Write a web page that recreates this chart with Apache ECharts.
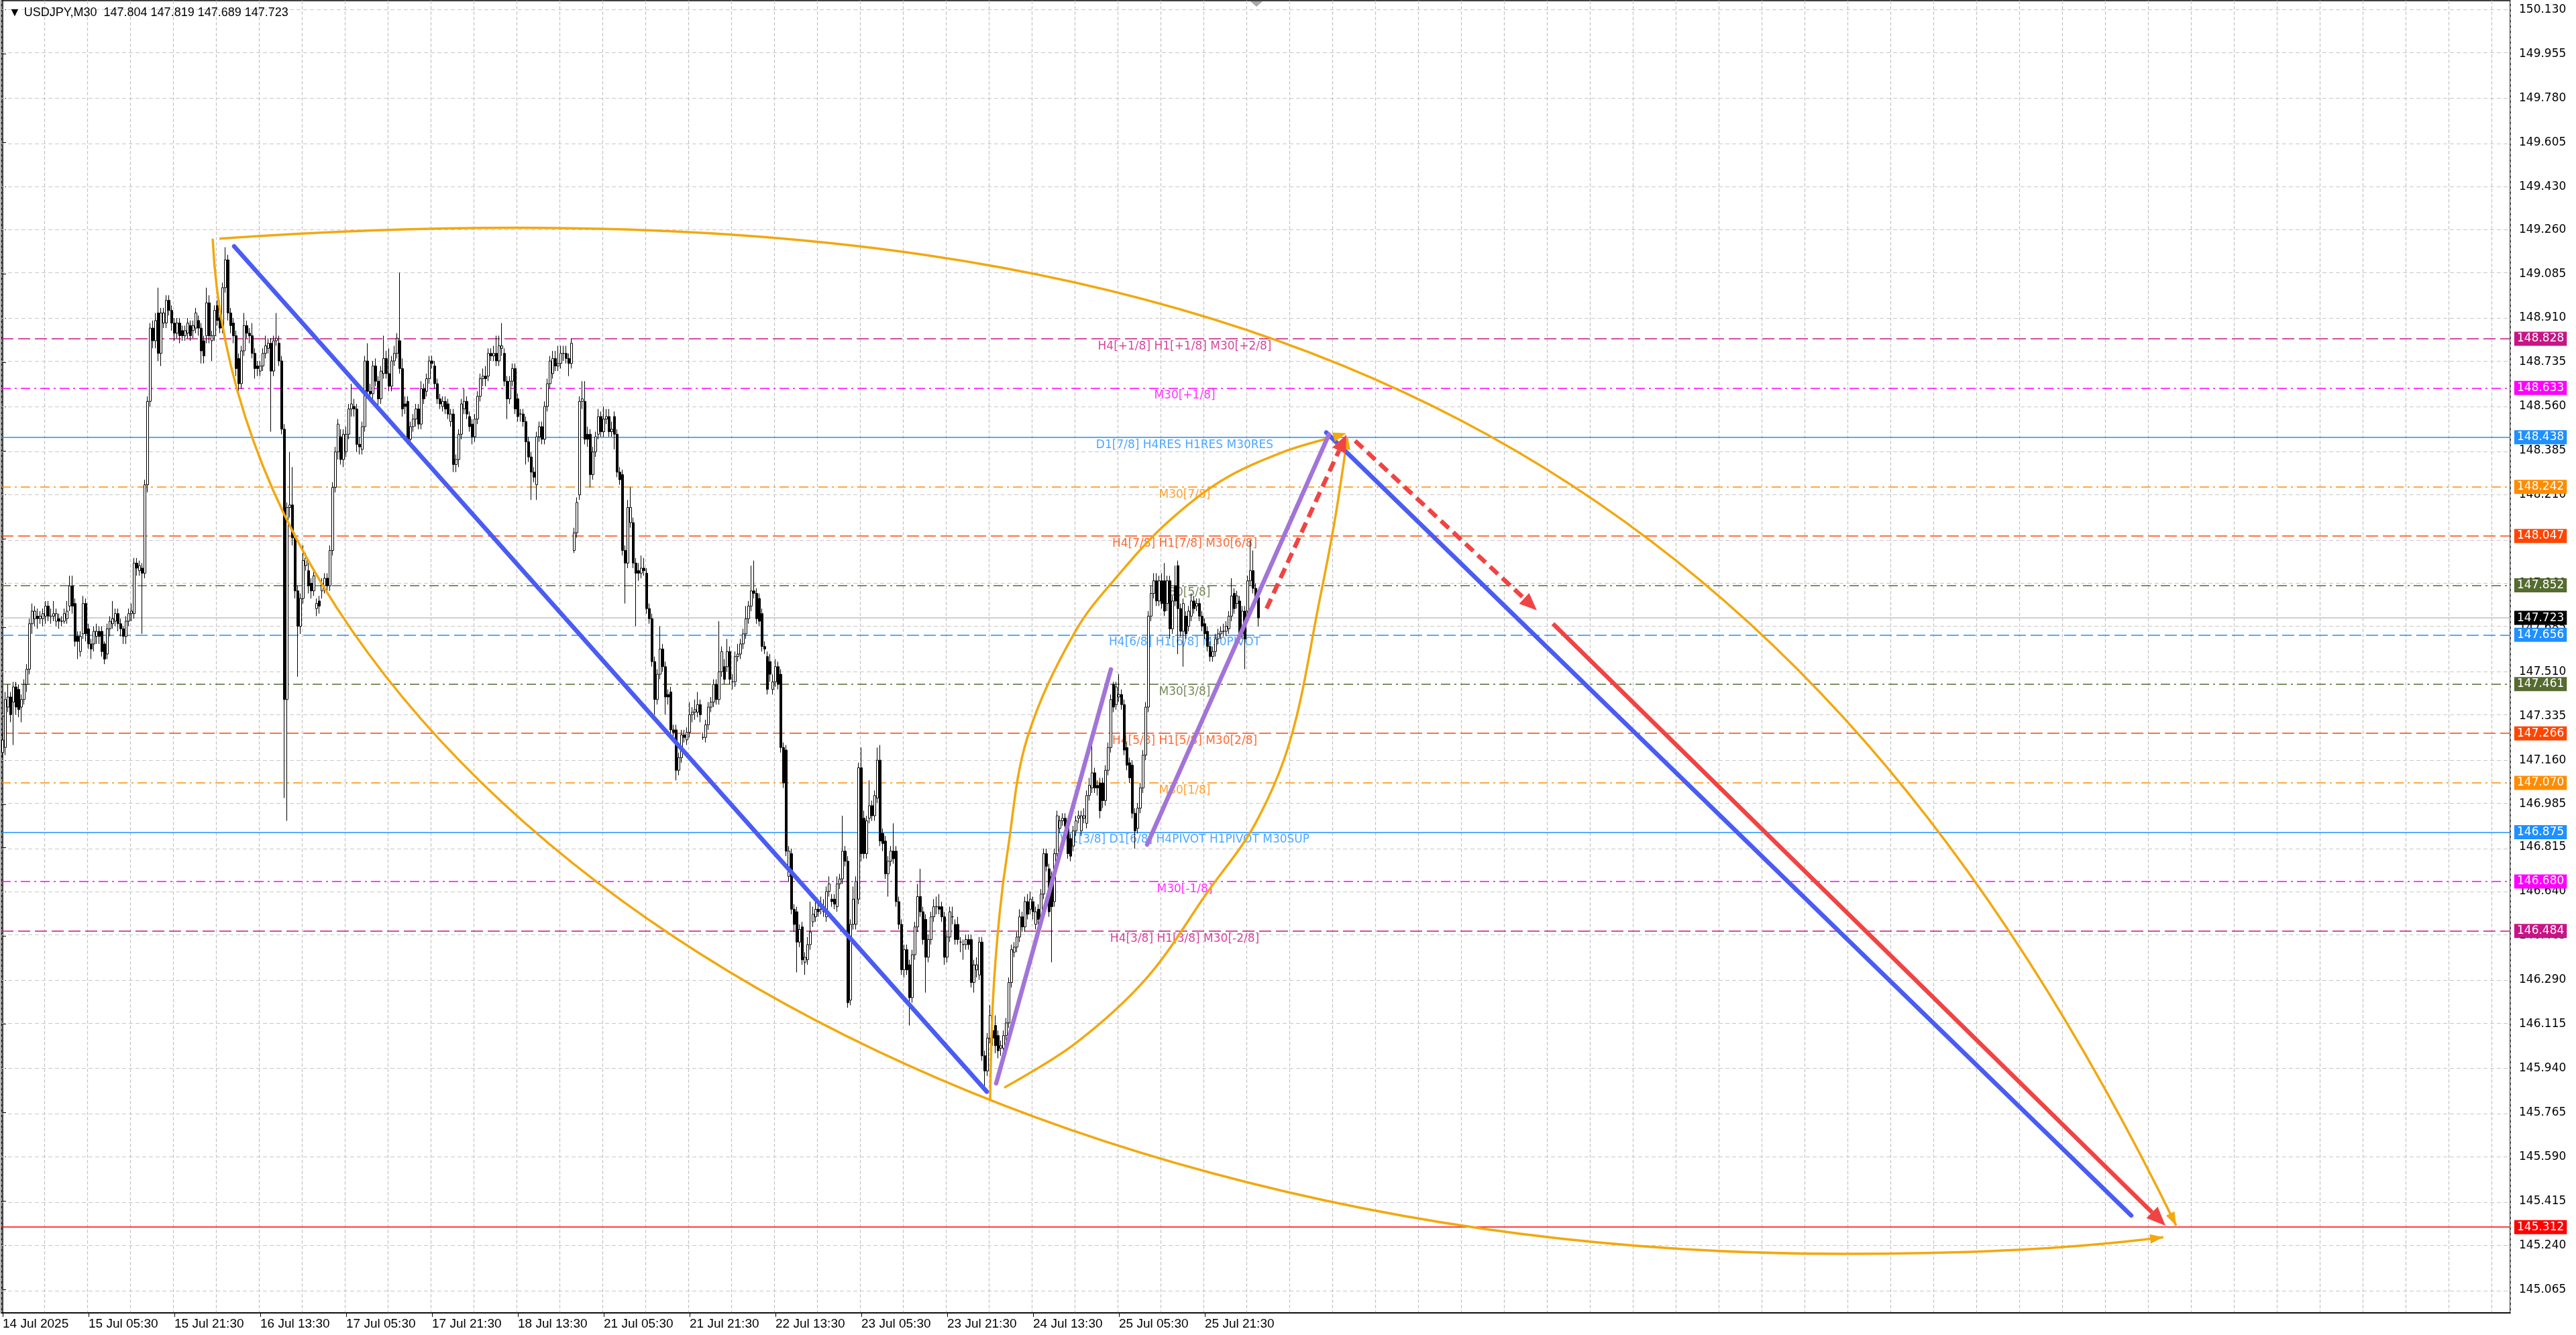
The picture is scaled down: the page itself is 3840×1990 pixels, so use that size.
<!DOCTYPE html>
<html>
<head>
<meta charset="utf-8">
<title>USDJPY M30</title>
<script src="https://cdn.jsdelivr.net/npm/echarts@6.0.0/dist/echarts.min.js"></script>
<style>
html, body { margin: 0; padding: 0; background: #fff; }
#chart { width: 3840px; height: 1990px; }
</style>
</head>
<body>
<div id="chart"></div>
<script>
// USDJPY M30 chart with Murrey math levels and hand drawn projection
var barCount = 935; // bars that fit in the window (candles + empty right side)
var header = '\u25BC USDJPY,M30  147.804 147.819 147.689 147.723';
var xLabels = ['14 Jul 2025', '15 Jul 05:30', '15 Jul 21:30', '16 Jul 13:30', '17 Jul 05:30',
    '17 Jul 21:30', '18 Jul 13:30', '21 Jul 05:30', '21 Jul 21:30', '22 Jul 13:30',
    '23 Jul 05:30', '23 Jul 21:30', '24 Jul 13:30', '25 Jul 05:30', '25 Jul 21:30'];
var yTicks = [150.130, 149.955, 149.780, 149.605, 149.430, 149.260, 149.085, 148.910, 148.735,
    148.560, 148.385, 148.210, 148.035, 147.860, 147.685, 147.510, 147.335, 147.160, 146.985,
    146.815, 146.640, 146.465, 146.290, 146.115, 145.940, 145.765, 145.590, 145.415, 145.240, 145.065];

// [open, close, low, high]
var candles = [
[147.19,147.24,147.17,147.27],[147.21,147.40,147.18,147.43],[147.37,147.41,147.35,147.46],[147.41,147.34,147.31,147.43],
[147.39,147.45,147.22,147.47],[147.45,147.37,147.34,147.47],[147.44,147.36,147.33,147.46],[147.37,147.40,147.31,147.42],
[147.40,147.46,147.38,147.48],[147.46,147.52,147.43,147.54],[147.52,147.70,147.50,147.72],[147.70,147.75,147.66,147.78],
[147.72,147.75,147.69,147.77],[147.73,147.72,147.68,147.76],[147.72,147.73,147.70,147.75],[147.72,147.74,147.69,147.76],
[147.73,147.77,147.70,147.79],[147.77,147.73,147.71,147.79],[147.73,147.73,147.70,147.76],[147.73,147.74,147.71,147.79],
[147.71,147.74,147.69,147.76],[147.72,147.71,147.68,147.74],[147.71,147.71,147.69,147.73],[147.71,147.74,147.70,147.76],
[147.72,147.75,147.70,147.79],[147.77,147.85,147.75,147.89],[147.85,147.77,147.74,147.89],[147.78,147.63,147.61,147.80],
[147.65,147.63,147.56,147.67],[147.59,147.65,147.57,147.67],[147.66,147.78,147.64,147.81],[147.78,147.66,147.63,147.80],
[147.68,147.62,147.60,147.70],[147.62,147.60,147.56,147.64],[147.62,147.67,147.59,147.69],[147.65,147.67,147.62,147.70],
[147.67,147.65,147.62,147.69],[147.67,147.59,147.57,147.69],[147.62,147.56,147.54,147.63],[147.58,147.68,147.56,147.70],
[147.68,147.71,147.65,147.73],[147.70,147.72,147.68,147.79],[147.71,147.74,147.69,147.76],[147.74,147.70,147.67,147.76],
[147.70,147.68,147.65,147.72],[147.68,147.65,147.62,147.69],[147.65,147.71,147.62,147.73],[147.71,147.74,147.69,147.76],
[147.74,147.75,147.71,147.78],[147.74,147.94,147.72,147.96],[147.94,147.92,147.89,147.96],[147.91,147.93,147.89,147.95],
[147.92,147.90,147.66,147.94],[147.90,148.25,147.88,148.27],[148.25,148.58,148.22,148.60],[148.58,148.87,148.56,148.89],
[148.87,148.82,148.79,148.90],[148.82,148.90,148.79,148.93],[148.93,148.77,148.74,149.03],[148.77,148.93,148.72,148.95],
[148.89,148.93,148.87,148.95],[148.89,148.98,148.87,149.00],[148.98,148.94,148.92,149.00],[148.94,148.89,148.86,148.96],
[148.89,148.85,148.82,148.91],[148.85,148.89,148.83,148.91],[148.89,148.84,148.81,148.91],[148.86,148.84,148.82,148.88],
[148.84,148.86,148.82,148.88],[148.85,148.89,148.83,148.91],[148.88,148.84,148.82,148.90],[148.86,148.88,148.83,148.90],
[148.87,148.93,148.85,148.95],[148.90,148.87,148.84,148.92],[148.87,148.78,148.73,148.89],[148.82,148.76,148.73,148.84],
[148.84,148.97,148.81,149.03],[148.97,148.84,148.81,149.00],[148.82,148.84,148.74,148.86],[148.84,148.94,148.82,148.96],
[148.96,148.90,148.88,148.98],[148.91,148.87,148.85,148.93],[148.87,149.03,148.85,149.05],[149.03,149.14,149.01,149.19],
[149.14,148.93,148.90,149.16],[148.93,148.88,148.85,148.95],[148.89,148.84,148.81,148.91],[148.84,148.71,148.68,148.86],
[148.75,148.65,148.62,148.77],[148.65,148.78,148.63,148.80],[148.78,148.88,148.76,148.93],[148.88,148.85,148.83,148.90],
[148.85,148.84,148.81,148.87],[148.84,148.77,148.75,148.89],[148.77,148.71,148.67,148.79],[148.72,148.71,148.68,148.74],
[148.70,148.72,148.68,148.74],[148.72,148.77,148.70,148.79],[148.77,148.80,148.75,148.84],[148.79,148.81,148.77,148.83],
[148.81,148.70,148.46,148.83],[148.70,148.82,148.68,148.84],[148.82,148.83,148.80,148.93],[148.81,148.74,148.72,148.84],
[148.74,148.47,148.45,148.76],[148.47,147.40,147.01,148.49],[147.40,148.16,146.92,148.18],[148.16,148.17,148.12,148.38],
[148.17,148.04,148.01,148.32],[148.04,147.83,147.80,148.06],[147.83,147.69,147.49,147.85],[147.69,147.80,147.66,147.82],
[147.80,147.95,147.78,148.01],[147.93,147.96,147.91,147.98],[147.91,147.85,147.82,147.94],[147.86,147.83,147.80,147.88],
[147.83,147.89,147.81,147.91],[147.76,147.78,147.73,147.80],[147.79,147.77,147.74,147.81],[147.83,147.86,147.80,147.88],
[147.85,147.88,147.82,147.90],[147.88,147.85,147.83,147.90],[147.85,147.99,147.83,148.01],[147.99,148.24,147.97,148.26],
[148.24,148.38,148.22,148.40],[148.38,148.49,148.35,148.51],[148.44,148.35,148.33,148.47],[148.35,148.45,148.32,148.47],
[148.38,148.45,148.36,148.48],[148.45,148.55,148.43,148.57],[148.55,148.57,148.52,148.65],[148.56,148.55,148.52,148.59],
[148.55,148.41,148.38,148.57],[148.41,148.40,148.37,148.44],[148.39,148.48,148.37,148.50],[148.48,148.74,148.46,148.76],
[148.74,148.62,148.60,148.81],[148.62,148.61,148.59,148.65],[148.61,148.72,148.59,148.74],[148.72,148.66,148.64,148.75],
[148.66,148.59,148.56,148.68],[148.59,148.70,148.57,148.72],[148.69,148.75,148.67,148.84],[148.75,148.69,148.67,148.78],
[148.69,148.64,148.62,148.79],[148.64,148.74,148.62,148.76],[148.74,148.77,148.72,148.80],[148.77,148.83,148.75,148.85],
[148.82,148.71,148.69,149.09],[148.71,148.55,148.52,148.75],[148.57,148.56,148.53,148.60],[148.58,148.43,148.41,148.60],
[148.43,148.48,148.40,148.50],[148.48,148.51,148.46,148.53],[148.51,148.55,148.48,148.57],[148.55,148.49,148.47,148.57],
[148.49,148.63,148.47,148.66],[148.63,148.59,148.57,148.65],[148.62,148.67,148.60,148.69],[148.67,148.74,148.65,148.76],
[148.74,148.73,148.71,148.76],[148.72,148.65,148.63,148.74],[148.65,148.59,148.57,148.67],[148.59,148.57,148.55,148.61],
[148.56,148.58,148.54,148.60],[148.58,148.55,148.53,148.60],[148.57,148.53,148.51,148.59],[148.50,148.53,148.48,148.55],
[148.53,148.33,148.30,148.55],[148.33,148.35,148.30,148.37],[148.35,148.45,148.32,148.47],[148.45,148.57,148.43,148.59],
[148.55,148.58,148.53,148.63],[148.58,148.53,148.51,148.60],[148.52,148.48,148.46,148.54],[148.49,148.44,148.41,148.51],
[148.44,148.51,148.42,148.53],[148.51,148.60,148.49,148.62],[148.60,148.67,148.58,148.69],[148.67,148.68,148.64,148.71],
[148.68,148.67,148.64,148.72],[148.68,148.77,148.66,148.79],[148.77,148.76,148.74,148.79],[148.76,148.77,148.74,148.80],
[148.77,148.74,148.72,148.84],[148.74,148.80,148.72,148.84],[148.79,148.80,148.76,148.89],[148.77,148.66,148.64,148.79],
[148.66,148.59,148.51,148.68],[148.59,148.66,148.57,148.68],[148.66,148.71,148.64,148.73],[148.71,148.55,148.53,148.73],
[148.59,148.52,148.50,148.61],[148.53,148.53,148.50,148.55],[148.53,148.50,148.48,148.55],[148.50,148.42,148.33,148.52],
[148.42,148.36,148.34,148.44],[148.36,148.30,148.19,148.38],[148.30,148.28,148.26,148.32],[148.25,148.44,148.19,148.46],
[148.44,148.48,148.42,148.50],[148.48,148.43,148.41,148.50],[148.43,148.56,148.41,148.58],[148.56,148.65,148.54,148.67],
[148.65,148.74,148.63,148.76],[148.69,148.75,148.67,148.78],[148.75,148.72,148.70,148.78],[148.72,148.73,148.70,148.80],
[148.73,148.77,148.71,148.80],[148.77,148.77,148.74,148.80],[148.77,148.75,148.73,148.80],[148.75,148.73,148.68,148.77],
[148.73,148.81,148.71,148.83],[147.99,148.06,147.98,148.08],[148.06,148.18,148.04,148.20],[148.21,148.58,148.19,148.60],
[148.58,148.59,148.55,148.66],[148.58,148.43,148.41,148.66],[148.45,148.43,148.40,148.48],[148.45,148.29,148.24,148.47],
[148.29,148.38,148.27,148.40],[148.38,148.44,148.36,148.46],[148.45,148.52,148.43,148.55],[148.52,148.46,148.44,148.54],
[148.46,148.51,148.44,148.56],[148.51,148.52,148.49,148.55],[148.52,148.46,148.44,148.55],[148.46,148.47,148.44,148.50],
[148.52,148.45,148.39,148.54],[148.45,148.30,148.28,148.47],[148.30,148.27,148.25,148.32],[148.29,147.99,147.97,148.31],
[147.99,147.94,147.78,148.01],[147.94,148.16,147.92,148.19],[148.10,148.16,148.08,148.24],[148.10,147.94,147.92,148.12],
[147.94,147.90,147.69,147.96],[147.91,147.90,147.87,147.94],[147.90,147.92,147.88,147.97],[147.92,147.91,147.89,147.96],
[147.90,147.76,147.74,147.92],[147.76,147.72,147.70,147.78],[147.72,147.55,147.53,147.74],[147.55,147.40,147.34,147.57],
[147.40,147.50,147.38,147.52],[147.50,147.60,147.48,147.69],[147.60,147.53,147.51,147.62],[147.53,147.41,147.34,147.55],
[147.42,147.41,147.38,147.44],[147.43,147.28,147.26,147.45],[147.28,147.27,147.24,147.30],[147.28,147.12,147.08,147.30],
[147.12,147.17,147.10,147.19],[147.17,147.26,147.15,147.28],[147.26,147.25,147.23,147.28],[147.24,147.27,147.22,147.29],
[147.27,147.34,147.25,147.39],[147.34,147.35,147.31,147.37],[147.35,147.36,147.32,147.40],[147.35,147.38,147.33,147.43],
[147.38,147.34,147.31,147.40],[147.25,147.25,147.24,147.27],[147.25,147.30,147.23,147.32],[147.30,147.37,147.28,147.39],
[147.37,147.39,147.35,147.41],[147.39,147.46,147.37,147.48],[147.46,147.40,147.38,147.48],[147.40,147.51,147.38,147.71],
[147.51,147.59,147.49,147.61],[147.53,147.48,147.46,147.56],[147.53,147.59,147.51,147.64],[147.59,147.48,147.46,147.61],
[147.47,147.47,147.44,147.50],[147.47,147.57,147.45,147.59],[147.57,147.58,147.55,147.62],[147.58,147.62,147.56,147.64],
[147.62,147.66,147.60,147.68],[147.66,147.72,147.64,147.77],[147.72,147.77,147.70,147.79],[147.77,147.83,147.75,147.93],
[147.83,147.82,147.80,147.95],[147.82,147.72,147.70,147.84],[147.80,147.71,147.69,147.82],[147.74,147.61,147.59,147.76],
[147.61,147.60,147.58,147.63],[147.57,147.44,147.42,147.59],[147.55,147.50,147.47,147.58],[147.44,147.47,147.42,147.50],
[147.47,147.53,147.45,147.56],[147.53,147.46,147.44,147.55],[147.50,147.21,147.19,147.52],[147.21,147.07,147.05,147.23],
[147.20,146.80,146.78,147.22],[146.70,146.80,146.68,146.82],[146.79,146.57,146.55,146.81],[146.57,146.51,146.48,146.59],
[146.56,146.44,146.32,146.58],[146.44,146.49,146.42,146.51],[146.50,146.37,146.35,146.52],[146.36,146.38,146.31,146.40],
[146.37,146.43,146.35,146.46],[146.43,146.48,146.41,146.60],[146.52,146.55,146.50,146.58],[146.54,146.57,146.52,146.60],
[146.57,146.56,146.54,146.59],[146.57,146.57,146.55,146.62],[146.56,146.58,146.54,146.61],[146.54,146.64,146.52,146.66],
[146.64,146.67,146.62,146.70],[146.61,146.60,146.58,146.63],[146.61,146.59,146.57,146.63],[146.58,146.67,146.56,146.70],
[146.67,146.69,146.65,146.71],[146.69,146.80,146.67,146.94],[146.80,146.76,146.74,146.82],[146.76,146.20,146.18,146.78],
[146.21,146.51,146.19,146.53],[146.51,146.61,146.49,146.66],[146.51,146.68,146.49,146.70],[146.61,147.13,146.59,147.15],
[147.13,146.79,146.76,147.21],[146.93,146.79,146.77,146.96],[146.79,146.92,146.77,146.94],[146.93,146.98,146.91,147.08],
[146.98,146.94,146.92,147.00],[146.94,147.02,146.92,147.04],[147.01,147.16,146.99,147.21],[147.16,146.84,146.82,147.22],
[146.87,146.83,146.80,146.89],[146.84,146.71,146.69,146.86],[146.71,146.76,146.62,146.78],[146.76,146.80,146.74,146.82],
[146.80,146.77,146.75,146.91],[146.80,146.60,146.58,146.82],[146.60,146.51,146.49,146.62],[146.51,146.33,146.31,146.53],
[146.33,146.41,146.30,146.43],[146.41,146.33,146.31,146.43],[146.35,146.22,146.11,146.37],[146.22,146.39,146.20,146.41],
[146.39,146.50,146.37,146.52],[146.50,146.62,146.48,146.67],[146.62,146.56,146.54,146.73],[146.56,146.45,146.43,146.58],
[146.53,146.38,146.24,146.55],[146.38,146.45,146.36,146.47],[146.45,146.54,146.43,146.56],[146.54,146.58,146.52,146.61],
[146.58,146.58,146.55,146.62],[146.58,146.57,146.55,146.63],[146.58,146.54,146.52,146.60],[146.54,146.38,146.35,146.56],
[146.38,146.46,146.36,146.48],[146.46,146.56,146.44,146.58],[146.54,146.54,146.51,146.58],[146.51,146.45,146.43,146.53],
[146.51,146.45,146.43,146.54],[146.44,146.44,146.40,146.46],[146.43,146.43,146.37,146.45],[146.43,146.45,146.41,146.47],
[146.45,146.43,146.41,146.47],[146.45,146.28,146.26,146.47],[146.28,146.35,146.24,146.37],[146.33,146.35,146.30,146.38],
[146.31,146.44,146.29,146.46],[146.44,145.99,145.97,146.46],[145.99,145.93,145.85,146.01],[145.93,146.06,145.91,146.08],
[146.06,146.15,146.04,146.19],[146.09,146.06,146.03,146.12],[146.11,146.03,146.00,146.15],[146.07,146.01,145.98,146.09],
[146.02,146.03,145.99,146.05],[146.02,146.07,146.00,146.09],[146.07,146.12,146.05,146.14],[146.12,146.28,146.10,146.30],
[146.28,146.41,146.26,146.43],[146.40,146.42,146.38,146.44],[146.42,146.46,146.40,146.48],[146.46,146.54,146.44,146.57],
[146.54,146.50,146.48,146.56],[146.50,146.60,146.48,146.62],[146.60,146.55,146.53,146.63],[146.57,146.61,146.55,146.64],
[146.60,146.56,146.53,146.62],[146.51,146.56,146.49,146.58],[146.57,146.53,146.45,146.59],[146.51,146.63,146.49,146.65],
[146.63,146.79,146.61,146.81],[146.79,146.74,146.72,146.81],[146.73,146.56,146.54,146.75],[146.70,146.58,146.36,146.72],
[146.60,146.79,146.58,146.81],[146.79,146.94,146.77,146.96],[146.89,146.92,146.87,146.94],[146.92,146.93,146.90,146.95],
[146.93,146.90,146.88,146.95],[146.90,146.79,146.77,146.92],[146.85,146.78,146.76,146.87],[146.82,146.88,146.80,146.90],
[146.88,146.92,146.86,146.94],[146.93,146.94,146.91,146.96],[146.88,146.94,146.86,146.96],[146.93,146.94,146.91,146.97],
[146.91,147.02,146.89,147.04],[147.02,147.06,147.00,147.09],[147.05,147.11,147.03,147.24],[147.11,147.05,147.03,147.13],
[147.06,147.05,147.02,147.08],[147.07,146.96,146.93,147.09],[147.07,147.00,146.97,147.09],[147.00,147.12,146.98,147.14],
[147.12,147.21,147.10,147.23],[147.21,147.40,147.19,147.42],[147.46,147.37,147.35,147.47],[147.38,147.45,147.36,147.47],
[147.41,147.42,147.39,147.50],[147.42,147.38,147.36,147.44],[147.38,147.20,147.18,147.40],[147.21,147.14,147.12,147.23],
[147.15,147.09,147.07,147.17],[147.14,146.95,146.93,147.16],[146.95,146.88,146.81,146.97],[146.89,146.97,146.87,146.99],
[146.97,147.05,146.95,147.07],[147.05,147.18,147.03,147.20],[147.18,147.37,147.16,147.39],[147.37,147.73,147.35,147.75],
[147.73,147.82,147.71,147.85],[147.82,147.87,147.80,147.90],[147.87,147.79,147.77,147.90],[147.79,147.87,147.77,147.89],
[147.87,147.78,147.76,147.90],[147.87,147.75,147.73,147.94],[147.78,147.87,147.75,147.89],[147.87,147.68,147.64,147.89],
[147.68,147.79,147.66,147.81],[147.85,147.79,147.77,147.93],[147.93,147.76,147.58,147.95],[147.76,147.67,147.65,147.78],
[147.67,147.78,147.53,147.80],[147.73,147.66,147.64,147.75],[147.69,147.75,147.67,147.77],[147.73,147.79,147.71,147.82],
[147.79,147.76,147.74,147.81],[147.77,147.78,147.75,147.80],[147.78,147.73,147.71,147.80],[147.73,147.69,147.67,147.75],
[147.70,147.66,147.64,147.72],[147.67,147.61,147.59,147.69],[147.61,147.57,147.55,147.63],[147.57,147.59,147.55,147.61],
[147.59,147.64,147.57,147.66],[147.64,147.66,147.62,147.68],[147.66,147.67,147.64,147.69],[147.67,147.67,147.65,147.70],
[147.67,147.69,147.65,147.71],[147.68,147.73,147.66,147.75],[147.73,147.81,147.71,147.88],[147.82,147.76,147.74,147.84],
[147.78,147.81,147.76,147.83],[147.79,147.66,147.64,147.81],[147.66,147.75,147.64,147.77],[147.75,147.64,147.52,147.77],
[147.75,147.87,147.73,147.89],[147.87,147.91,147.85,148.03],[147.91,147.84,147.82,147.99],[147.84,147.80,147.78,147.86],
[147.804,147.723,147.689,147.819]
];

// Murrey math levels drawn by the indicator
var levels = [148.828, 148.633, 148.438, 148.242, 148.047, 147.852, 147.656, 147.461, 147.266, 147.070, 146.875, 146.680, 146.484];
var levelNames = ['H4[+1/8] H1[+1/8] M30[+2/8]', 'M30[+1/8]', 'D1[7/8] H4RES H1RES M30RES', 'M30[7/8]',
    'H4[7/8] H1[7/8] M30[6/8]', 'M30[5/8]', 'H4[6/8] H1[6/8] M30PIVOT', 'M30[3/8]',
    'H4[5/8] H1[5/8] M30[2/8]', 'M30[1/8]', 'W1[3/8] D1[6/8] H4PIVOT H1PIVOT M30SUP', 'M30[-1/8]',
    'H4[3/8] H1[3/8] M30[-2/8]'];
var lastPrice = 147.723;
var targetPrice = 145.312;

// hand drawn objects, points as [bar, price]
// the two big arcs are cubic bezier segments: start, ctrl, ctrl, end (, ctrl, ctrl, end)
var upperArc = [[80.75, 149.224], [480.75, 149.521], [672.5, 148.305], [810, 145.318]];
var lowerArc = [[78.25, 149.224], [88.25, 147.036], [350, 145.206], [685.5, 145.206],
    [725.75, 145.206], [765.75, 145.219], [805.25, 145.272]];
var lensUpper = [[368, 145.81], [369, 146.20], [371.5, 146.55], [374.5, 146.80], [381.75, 147.245],
    [399.75, 147.67], [417.5, 147.914], [433.75, 148.098], [454, 148.265], [476.5, 148.377], [500.75, 148.454]];
var lensLower = [[373.25, 145.864], [399.75, 146.039], [426.5, 146.300], [448.75, 146.634], [466.75, 146.908],
    [480, 147.245], [490.75, 147.792], [496.25, 148.098], [501.25, 148.443]];
var blueLine1 = [[86.25, 149.194], [366.75, 145.848]];
var blueLine2 = [[493.25, 148.457], [793.25, 145.358]];
var purpleLine1 = [[370.25, 145.881], [413, 147.519]];
var purpleLine2 = [[426.5, 146.826], [494.25, 148.449]];
var redDash1 = [[471, 147.760], [500.75, 148.448]];
var redDash2 = [[504, 148.424], [571.75, 147.753]];
var redLine = [[577.75, 147.700], [806, 145.318]];

var ORANGE = '#F2A80F', BLUE = '#4A5CF2', PURPLE = '#A274D8', RED = '#F04444';
var levelColors = ['#C71585', '#FF00FF', '#1E90FF', '#FF8C00', '#FF4500', '#556B2F', '#1E90FF',
    '#556B2F', '#FF4500', '#FF8C00', '#1E90FF', '#FF00FF', '#C71585'];
var DASH = [18, 7], DASHDOT = [14, 6, 3, 6];
var levelDash = [DASH, DASHDOT, 'solid', DASHDOT, DASH, DASHDOT, DASH, DASHDOT, DASH, DASHDOT, 'solid', DASHDOT, DASH];
var labelBar = 440.5; // where the level names sit

var drawings = [
    { pts: upperArc, color: ORANGE, width: 3.5, bezier: true, arrow: [20, 7] },
    { pts: lowerArc, color: ORANGE, width: 3.5, bezier: true, arrow: [20, 7] },
    { pts: lensUpper, color: ORANGE, width: 3.5, smooth: 0.35, arrow: [20, 7] },
    { pts: lensLower, color: ORANGE, width: 3.5, smooth: 0.35, arrow: [20, 7] },
    { pts: blueLine1, color: BLUE, width: 6.5 },
    { pts: blueLine2, color: BLUE, width: 6.5 },
    { pts: purpleLine1, color: PURPLE, width: 6.5 },
    { pts: purpleLine2, color: PURPLE, width: 6.5 },
    { pts: redDash1, color: RED, width: 6.5, dash: [16, 9], arrow: [26, 11] },
    { pts: redDash2, color: RED, width: 6.5, dash: [16, 9], arrow: [26, 11] },
    { pts: redLine, color: RED, width: 6.5, arrow: [28, 12] }
];

var categories = [];
for (var i = 0; i < barCount; i++) categories.push(String(i));

function isLabelBar(idx) { return idx % 32 === 0 && idx / 32 < xLabels.length; }

function renderDrawing(params, api) {
    var d = drawings[api.value(2)];
    var pts = d.pts.map(function (p) { return api.coord(p); });
    var children = [];
    var n = pts.length, tip = pts[n - 1], from = pts[n - 2];
    var lineStyle = { stroke: d.color, fill: null, lineWidth: d.width, lineDash: d.dash || null,
        lineCap: d.dash || d.arrow ? 'butt' : 'round', lineJoin: 'round' };
    var base = tip;
    if (d.arrow) {
        var dx = tip[0] - from[0], dy = tip[1] - from[1];
        var len = Math.sqrt(dx * dx + dy * dy), ux = dx / len, uy = dy / len;
        base = [tip[0] - ux * d.arrow[0], tip[1] - uy * d.arrow[0]];
        children.push({
            type: 'polygon', z2: 2,
            shape: { points: [tip, [base[0] - uy * d.arrow[1], base[1] + ux * d.arrow[1]],
                [base[0] + uy * d.arrow[1], base[1] - ux * d.arrow[1]]] },
            style: { fill: d.color }
        });
    }
    if (d.bezier) {
        for (var s = 0; s + 3 < n; s += 3) {
            children.push({
                type: 'bezierCurve',
                shape: { x1: pts[s][0], y1: pts[s][1], cpx1: pts[s + 1][0], cpy1: pts[s + 1][1],
                    cpx2: pts[s + 2][0], cpy2: pts[s + 2][1], x2: pts[s + 3][0], y2: pts[s + 3][1] },
                style: lineStyle
            });
        }
    } else {
        children.push({
            type: 'polyline',
            shape: { points: pts.slice(0, n - 1).concat([base]), smooth: d.smooth || 0 },
            style: lineStyle
        });
    }
    return { type: 'group', children: children };
}

var levelLines = levels.map(function (v, k) {
    return { yAxis: v, lineStyle: { color: levelColors[k], type: levelDash[k], width: 1.5 },
        label: { backgroundColor: levelColors[k] } };
});
levelLines.push({ yAxis: lastPrice, lineStyle: { color: '#C0C0C0', type: 'solid', width: 1.5 },
    label: { backgroundColor: '#000' } });
levelLines.push({ yAxis: targetPrice, lineStyle: { color: '#FF0000', type: 'solid', width: 1.5 },
    label: { backgroundColor: '#FF0000' } });

var myChart = echarts.init(document.getElementById('chart'));
var option = {
    animation: false,
    backgroundColor: '#fff',
    title: {
        text: header, left: 8, top: 5,
        textStyle: { color: '#000', fontSize: 18, fontWeight: 'normal', fontFamily: 'Liberation Sans' }
    },
    grid: { left: 2, right: 98, top: 1, bottom: 33, show: true, borderColor: '#000', borderWidth: 1.5 },
    xAxis: [
        {
            type: 'category', data: categories, boundaryGap: true,
            axisLine: { show: true, lineStyle: { color: '#000', width: 1.5 } },
            axisTick: { show: true, interval: isLabelBar, alignWithLabel: true, length: 6, lineStyle: { color: '#000' } },
            axisLabel: {
                interval: isLabelBar, align: 'left', margin: 7, color: '#000',
                fontSize: 19, fontFamily: 'Liberation Sans',
                formatter: function (v, idx) { return xLabels[idx / 32]; }
            },
            splitLine: { show: true, interval: 15, lineStyle: { color: '#C4C4C4', type: [5, 3], width: 1.2 } }
        },
        { type: 'value', min: -0.5, max: barCount - 0.5, show: false }
    ],
    yAxis: {
        type: 'value', position: 'right', min: 144.9725, max: 150.166,
        axisLine: { show: true, lineStyle: { color: '#000', width: 1.5 } },
        axisTick: { show: true, customValues: yTicks, length: 5, lineStyle: { color: '#000' } },
        axisLabel: {
            customValues: yTicks, margin: 13, color: '#000', fontSize: 17, fontFamily: 'DejaVu Sans',
            formatter: function (v) { return v.toFixed(3); }
        },
        splitLine: { show: false }
    },
    series: [
        {
            name: 'grid', type: 'line', data: [], silent: true, z: 1,
            markLine: {
                silent: true, symbol: 'none', z: 1, animation: false, label: { show: false },
                lineStyle: { color: '#C8C8C8', type: [6, 4], width: 1.2 },
                data: yTicks.map(function (v) { return { yAxis: v }; })
            }
        },
        {
            name: 'levels', type: 'line', data: [], silent: true, z: 1,
            markLine: {
                silent: true, symbol: 'none', z: 1, animation: false, precision: 3,
                label: {
                    show: true, position: 'end', distance: 6, color: '#fff', fontSize: 17,
                    fontFamily: 'DejaVu Sans', padding: [3, 4, 1, 4],
                    formatter: function (p) { return Number(p.value).toFixed(3); }
                },
                data: levelLines
            }
        },
        {
            name: 'level names', type: 'scatter', xAxisIndex: 1, silent: true, z: 1,
            symbolSize: 0.1, itemStyle: { color: 'rgba(0,0,0,0)' },
            data: levels.map(function (v, k) {
                return {
                    value: [labelBar, v],
                    label: { show: true, position: 'bottom', distance: 3, formatter: levelNames[k],
                        color: levelColors[k], fontSize: 17, fontFamily: 'DejaVu Sans' }
                };
            })
        },
        {
            name: 'USDJPY', type: 'candlestick', data: candles, z: 3, barWidth: 3,
            itemStyle: { color: '#fff', color0: '#000', borderColor: '#000', borderColor0: '#000', borderWidth: 1 }
        },
        {
            name: 'drawings', type: 'custom', xAxisIndex: 1, z: 4, silent: true,
            renderItem: renderDrawing, encode: { x: 0, y: 1 },
            data: drawings.map(function (d, k) { return [d.pts[0][0], d.pts[0][1], k]; })
        }
    ],
    graphic: [{
        type: 'polygon', shape: { points: [[1864, 2], [1882, 2], [1873, 10]] },
        style: { fill: '#A8A8A8' }
    }]
};

myChart.setOption(option);
</script>
</body>
</html>
